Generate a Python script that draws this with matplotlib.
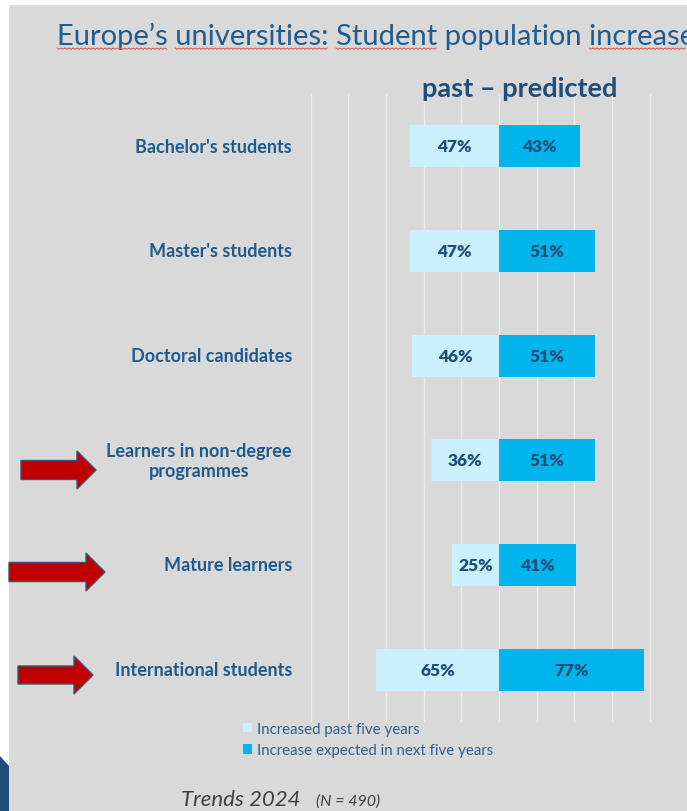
import matplotlib
matplotlib.use("Agg")
import matplotlib.pyplot as plt
from matplotlib.patches import Polygon, Rectangle
from matplotlib.lines import Line2D

categories = ["Bachelor's students", "Master's students", "Doctoral candidates",
              "Learners in non-degree\nprogrammes", "Mature learners", "International students"]
past = [47, 47, 46, 36, 25, 65]
predicted = [43, 51, 51, 51, 41, 77]
series_names = ["Increased past five years", "Increase expected in next five years"]
title = "Europe\u2019s universities: Student population increase"
subtitle = "past \u2013 predicted"
footer_main = "Trends 2024"
footer_n = "(N = 490)"

W, H = 687, 812
BG = "#d9d9d9"
LIGHT = "#c9f0fc"
DARK = "#00b4ec"
NAVY = "#1f4e79"
LABEL_BLUE = "#1f5a8c"

plt.rcParams["font.family"] = ["Lato", "DejaVu Sans"]

fig = plt.figure(figsize=(W / 100, H / 100), dpi=100, facecolor=BG)


def fx(x):
    return x / W


def fy(y):
    return 1 - y / H


# white margins (top and left)
fig.patches.append(Rectangle((0, fy(6)), 1, 6 / H, transform=fig.transFigure,
                             facecolor="white", edgecolor="none", zorder=0))
fig.patches.append(Rectangle((0, 0), 9 / W, 1, transform=fig.transFigure,
                             facecolor="white", edgecolor="none", zorder=0))
# dark blue corner shape
fig.patches.append(Polygon([(fx(0), fy(812)), (fx(0), fy(757)), (fx(9), fy(767)), (fx(9), fy(812))],
                           closed=True, transform=fig.transFigure, facecolor=NAVY,
                           edgecolor="none", zorder=1))

# axes placement
px_per_unit = 1.885
zero_px = 499
xmin, xmax = -101, 81
left_px = zero_px + xmin * px_per_unit
right_px = zero_px + xmax * px_per_unit
top_px, bot_px = 95, 723
ax = fig.add_axes([fx(left_px), fy(bot_px), (right_px - left_px) / W, (bot_px - top_px) / H])
ax.set_facecolor("none")
ax.set_xlim(xmin, xmax)
ax.set_ylim(len(categories) - 0.5, -0.5)

ypos = list(range(len(categories)))
b1 = ax.barh(ypos, [-v for v in past], height=0.40, color=LIGHT, label=series_names[0], zorder=3)
b2 = ax.barh(ypos, predicted, height=0.40, color=DARK, label=series_names[1], zorder=3)

ax.bar_label(b1, labels=[f"{v}%" for v in past], label_type="center",
             color=NAVY, fontsize=12.5, fontweight="heavy")
ax.bar_label(b2, labels=[f"{v}%" for v in predicted], label_type="center",
             color=NAVY, fontsize=12.5, fontweight="heavy")

ax.set_xticks(range(-100, 81, 20))
ax.xaxis.grid(True, color="#ebebeb", linewidth=1.0, zorder=0)
ax.set_axisbelow(True)
ax.tick_params(axis="x", length=0, labelbottom=False)
ax.tick_params(axis="y", length=0, labelleft=False)
for s in ax.spines.values():
    s.set_visible(False)

# category labels
for i, c in enumerate(categories):
    ax.annotate(c, xy=(0, i), xycoords=("figure fraction", "data"),
                xytext=(fx(292), 0), textcoords=("figure fraction", "offset points"),
                ha="right", va="center", multialignment="center", linespacing=1.25,
                fontsize=13, fontweight="bold", color=LABEL_BLUE)

# legend
leg = fig.legend(handles=[b1, b2], labels=series_names, loc="upper left",
                 bbox_to_anchor=(fx(243), fy(723)), frameon=False,
                 handlelength=0.6, handleheight=0.6, handletextpad=0.35,
                 labelspacing=0.5, borderaxespad=0, borderpad=0, fontsize=10.8)
for t in leg.get_texts():
    t.set_color("#2f5f8f")

# titles
title_txt = fig.text(fx(57), fy(45), title, fontsize=21, color="#1f5c8f", ha="left", va="baseline")
fig.text(fx(520), fy(97), subtitle, fontsize=19.5, fontweight="bold", color=NAVY,
         ha="center", va="baseline")
fig.text(fx(181), fy(806), footer_main, fontsize=16, style="italic", color="#404040",
         ha="left", va="baseline")
fig.text(fx(316), fy(806), footer_n, fontsize=11.5, style="italic", color="#404040",
         ha="left", va="baseline")

# spell-check style wavy underlines under some title words
renderer = fig.canvas.get_renderer()
x0_disp = title_txt.get_window_extent(renderer).x0


def prefix_width(s):
    if not s:
        return 0.0
    t = fig.text(0, 0, s, fontsize=21, family=["Lato", "DejaVu Sans"])
    w = t.get_window_extent(renderer).width
    t.remove()
    return w


for word in ["Europe\u2019s", "universities:", "Student", "increase"]:
    start = title.index(word)
    xs = x0_disp + prefix_width(title[:start])
    xe = x0_disp + prefix_width(title[:start + len(word)])
    xs_px, xe_px = xs, min(xe, W)
    pts_x, pts_y = [], []
    k = 0
    xx = xs_px
    while xx <= xe_px:
        pts_x.append(fx(xx))
        pts_y.append(fy(49 + (1.2 if k % 2 else 0)))
        xx += 2
        k += 1
    fig.lines.append(Line2D(pts_x, pts_y, transform=fig.transFigure, color="#e06060",
                            linewidth=0.8, zorder=5))

# red arrows (decoration)
def arrow(x0, x1, x2, yc, bh, hh):
    pts = [(x0, yc - bh / 2), (x1, yc - bh / 2), (x1, yc - hh / 2), (x2, yc),
           (x1, yc + hh / 2), (x1, yc + bh / 2), (x0, yc + bh / 2)]
    fig.patches.append(Polygon([(fx(a), fy(b)) for a, b in pts], closed=True,
                               transform=fig.transFigure, facecolor="#c00000",
                               edgecolor="#3b5670", linewidth=1.0, zorder=2))

arrow(21, 77, 96, 471, 19, 38)
arrow(9, 86, 105, 573, 19, 38)
arrow(18, 74, 93, 676, 18, 38)

fig.savefig("out.png", dpi=100, facecolor=BG)
